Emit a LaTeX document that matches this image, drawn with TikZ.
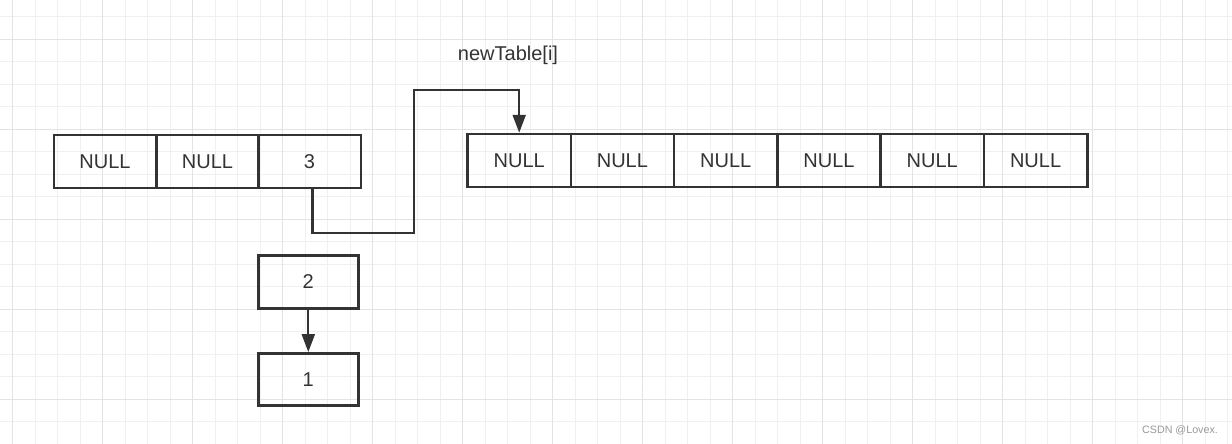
\documentclass[tikz,border=0pt]{standalone}
\usepackage{fontspec}
\setmainfont{Liberation Sans}
\usetikzlibrary{arrows.meta}
\definecolor{ink}{HTML}{333333}
\definecolor{gridminor}{HTML}{F0F0F0}
\definecolor{gridmajor}{HTML}{E3E3E3}
\begin{document}
\begin{tikzpicture}[x=1pt,y=-1pt,
  cell/.style={draw=ink, line width=2.5pt, minimum width=103.3pt, minimum height=53pt, inner sep=0pt, font=\fontsize{20}{24}\selectfont, text=ink},
  lcell/.style={cell, minimum width=102.5pt},
  nodebox/.style={cell, minimum width=100pt, minimum height=53pt},
  conn/.style={draw=ink, line width=2.2pt, -{Triangle[length=18pt,width=13pt]}},
  lbl/.style={font=\fontsize{20}{24}\selectfont, text=ink, inner sep=0pt},
  wm/.style={font=\fontsize{10.7}{12}\selectfont, text=black!40, inner sep=0pt},
  gminor/.style={draw=gridminor, line width=1pt},
  gmajor/.style={draw=gridmajor, line width=1.2pt}]
\useasboundingbox[fill=white] (0,0) rectangle (1232,444);
% grid
\foreach \i in {0,...,54} \draw[gminor] ({12.7+22.5*\i},0) -- ({12.7+22.5*\i},444);
\foreach \j in {0,...,19} \draw[gminor] (0,{16.7+22.5*\j}) -- (1232,{16.7+22.5*\j});
\foreach \i in {0,...,13} \draw[gmajor] ({12.7+90*\i},0) -- ({12.7+90*\i},444);
\foreach \j in {0,...,4} \draw[gmajor] (0,{39.2+90*\j}) -- (1232,{39.2+90*\j});
% old table
\node[lcell] (o1) at (105,161.3) {NULL};
\node[lcell] (o2) at (207.5,161.3) {NULL};
\node[lcell] (o3) at (309.5,161.3) {3};
% new table
\node[cell] (n1) at (519.2,160.5) {NULL};
\node[cell] (n2) at (622.4,160.5) {NULL};
\node[cell] (n3) at (725.7,160.5) {NULL};
\node[cell] (n4) at (829,160.5) {NULL};
\node[cell] (n5) at (932.3,160.5) {NULL};
\node[cell] (n6) at (1035.6,160.5) {NULL};
% chain
\node[nodebox] (e2) at (308.3,282) {2};
\node[nodebox, minimum height=52.4pt] (e1) at (308.3,379.5) {1};
\draw[conn] (e2) -- (e1);
% move connector
\coordinate (b1) at (414,233.3);
\coordinate (b2) at (414,90);
\draw[conn] ([xshift=3pt]o3.south) |- (b1) -- (b2) -| (n1.north);
% labels
\node[lbl] (lab) at (508,55) {newTable[i]};
\node[wm] (wmk) at (1180,430) {CSDN @Lovex.};
\end{tikzpicture}
\end{document}
